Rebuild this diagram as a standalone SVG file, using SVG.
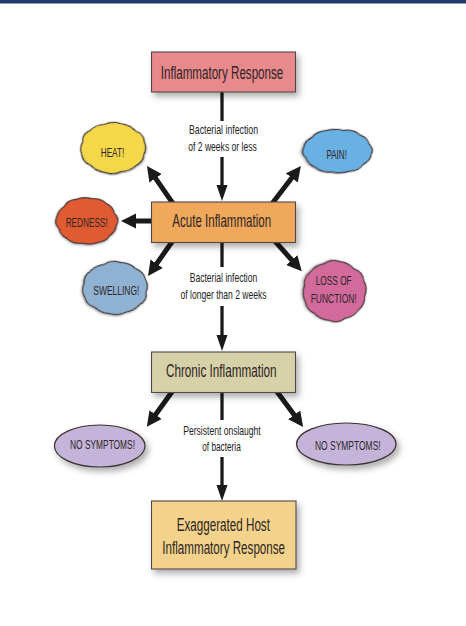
<svg xmlns="http://www.w3.org/2000/svg" xmlns:xlink="http://www.w3.org/1999/xlink" width="466" height="626" viewBox="0 0 466 626">
<style>
  .box { stroke: #54474a; stroke-width: 1.1; }
  .title { font-family: "Liberation Sans Narrow", "Liberation Sans", Arial, sans-serif; font-size: 17.5px; fill: #2e2424; text-anchor: middle; }
  .lbl { font-family: "Liberation Sans Narrow", "Liberation Sans", Arial, sans-serif; font-size: 13px; fill: #222222; text-anchor: middle; }
  .ct { font-family: "Liberation Sans Narrow", "Liberation Sans", Arial, sans-serif; font-size: 13px; fill: #2e2626; text-anchor: middle; }
  .cloud { stroke: #3e3232; stroke-width: 1.2; }
  .vline { stroke: #1a1a1a; stroke-width: 3.3; fill: none; }
  .dline { stroke: #1a1a1a; stroke-width: 5; fill: none; }
</style>
<defs>
  <filter id="sh" x="-20%" y="-20%" width="150%" height="160%">
    <feDropShadow dx="3" dy="4" stdDeviation="3" flood-color="#000" flood-opacity="0.32"/>
  </filter>
  <marker id="mv" markerUnits="userSpaceOnUse" markerWidth="17" markerHeight="12" refX="2" refY="6" orient="auto">
    <path d="M0,0.5 L16,6 L0,11.5 Z" fill="#1a1a1a"/>
  </marker>
  <marker id="md" markerUnits="userSpaceOnUse" markerWidth="16" markerHeight="16" refX="2" refY="8" orient="auto">
    <path d="M0,0.5 L15,8 L0,15.5 Z" fill="#1a1a1a"/>
  </marker>
  <path id="blob" d="M95,0 Q102,26 84,47 Q72,72 47,81 Q27,102 0,96 Q-26,99 -47,81 Q-75,74 -84,47 Q-98,25 -93,0 Q-104,-27 -83,-48 Q-73,-73 -47,-82 Q-26,-101 0,-96 Q26,-99 47,-81 Q76,-76 83,-48 Q99,-26 95,0 Z" vector-effect="non-scaling-stroke"/>
</defs>
<rect x="0" y="0" width="466" height="626" fill="#ffffff"/>
<rect x="0" y="0" width="466" height="3.5" fill="#1d3b6e"/>

<g id="connectors">
  <line class="vline" x1="222" y1="92" x2="222" y2="121"/>
  <line class="vline" x1="222" y1="157" x2="222" y2="187" marker-end="url(#mv)"/>
  <line class="vline" x1="222" y1="242" x2="222" y2="267"/>
  <line class="vline" x1="222" y1="306" x2="222" y2="337" marker-end="url(#mv)"/>
  <line class="vline" x1="222" y1="392" x2="222" y2="420"/>
  <line class="vline" x1="222" y1="457" x2="222" y2="487" marker-end="url(#mv)"/>
  <line class="dline" x1="174" y1="205" x2="154.4" y2="176.7" marker-end="url(#md)"/>
  <line class="dline" x1="155" y1="221" x2="134" y2="221" marker-end="url(#md)"/>
  <line class="dline" x1="174" y1="239" x2="155.5" y2="265.4" marker-end="url(#md)"/>
  <line class="dline" x1="271" y1="205" x2="293" y2="176.3" marker-end="url(#md)"/>
  <line class="dline" x1="273" y1="239" x2="293.1" y2="261.5" marker-end="url(#md)"/>
  <line class="dline" x1="174" y1="389" x2="154.4" y2="416.3" marker-end="url(#md)"/>
  <line class="dline" x1="275" y1="389" x2="295.4" y2="416.5" marker-end="url(#md)"/>
  <text class="lbl" x="223.5" y="134" textLength="69" lengthAdjust="spacingAndGlyphs">Bacterial infection</text>
  <text class="lbl" x="222.5" y="151" textLength="68.5" lengthAdjust="spacingAndGlyphs">of 2 weeks or less</text>
  <text class="lbl" x="223.5" y="281.5" textLength="67.5" lengthAdjust="spacingAndGlyphs">Bacterial infection</text>
  <text class="lbl" x="223.5" y="299" textLength="86" lengthAdjust="spacingAndGlyphs">of longer than 2 weeks</text>
  <text class="lbl" x="222" y="435" textLength="77.5" lengthAdjust="spacingAndGlyphs">Persistent onslaught</text>
  <text class="lbl" x="221.5" y="451" textLength="38.5" lengthAdjust="spacingAndGlyphs">of bacteria</text>
</g>

<g id="inflammatory-response">
  <rect class="box" x="151.5" y="52" width="144" height="40" fill="#e8898c" filter="url(#sh)"/>
  <text class="title" x="222" y="79" textLength="122.5" lengthAdjust="spacingAndGlyphs">Inflammatory Response</text>
</g>

<g id="acute-inflammation">
  <rect class="box" x="151.5" y="202" width="144" height="40.5" fill="#f0a95c" filter="url(#sh)"/>
  <text class="title" x="221.7" y="226.7" textLength="98.7" lengthAdjust="spacingAndGlyphs">Acute Inflammation</text>
</g>

<g id="chronic-inflammation">
  <rect class="box" x="151.5" y="352" width="144" height="40.5" fill="#d6d1a8" filter="url(#sh)"/>
  <text class="title" x="221.3" y="377.3" textLength="110.7" lengthAdjust="spacingAndGlyphs">Chronic Inflammation</text>
</g>

<g id="exaggerated-host">
  <rect class="box" x="151.5" y="501" width="144.5" height="68" fill="#f3d38b" filter="url(#sh)"/>
  <text class="title" x="223.3" y="530.7" textLength="93.3" lengthAdjust="spacingAndGlyphs">Exaggerated Host</text>
  <text class="title" x="223.7" y="554" textLength="122.7" lengthAdjust="spacingAndGlyphs">Inflammatory Response</text>
</g>

<g id="heat">
  <use xlink:href="#blob" class="cloud" fill="#f4d84a" transform="translate(113,148) scale(0.335,0.26) rotate(15)" filter="url(#sh)"/>
  <text class="ct" x="112.5" y="157" textLength="23.6" lengthAdjust="spacingAndGlyphs">HEAT!</text>
</g>

<g id="redness">
  <use xlink:href="#blob" class="cloud" fill="#e05a33" transform="translate(86.7,221) scale(0.315,0.24) rotate(40)" filter="url(#sh)"/>
  <text class="ct" x="86.7" y="227.3" textLength="42" lengthAdjust="spacingAndGlyphs">REDNESS!</text>
</g>

<g id="swelling">
  <use xlink:href="#blob" class="cloud" fill="#8fb2d2" transform="translate(115,288) scale(0.335,0.27) rotate(70)" filter="url(#sh)"/>
  <text class="ct" x="116.3" y="295" textLength="46" lengthAdjust="spacingAndGlyphs">SWELLING!</text>
</g>

<g id="pain">
  <use xlink:href="#blob" class="cloud" fill="#69b0e3" transform="translate(337.5,151) scale(0.355,0.225) rotate(100)" filter="url(#sh)"/>
  <text class="ct" x="336.7" y="158.5" textLength="20.5" lengthAdjust="spacingAndGlyphs">PAIN!</text>
</g>

<g id="loss-of-function">
  <use xlink:href="#blob" class="cloud" fill="#d36b9c" transform="translate(334.5,291) scale(0.325,0.31) rotate(130)" filter="url(#sh)"/>
  <text class="ct" x="333.7" y="285" textLength="36" lengthAdjust="spacingAndGlyphs">LOSS OF</text>
  <text class="ct" x="333.7" y="303" textLength="46" lengthAdjust="spacingAndGlyphs">FUNCTION!</text>
</g>

<g id="no-symptoms-left">
  <ellipse class="cloud" cx="99.7" cy="446" rx="45.3" ry="21" fill="#c4b4d9" filter="url(#sh)"/>
  <text class="ct" x="102.5" y="448.5" textLength="65" lengthAdjust="spacingAndGlyphs">NO SYMPTOMS!</text>
</g>

<g id="no-symptoms-right">
  <ellipse class="cloud" cx="346.3" cy="444" rx="49.7" ry="21" fill="#c4b4d9" filter="url(#sh)"/>
  <text class="ct" x="347.8" y="450" textLength="65.7" lengthAdjust="spacingAndGlyphs">NO SYMPTOMS!</text>
</g>
</svg>
